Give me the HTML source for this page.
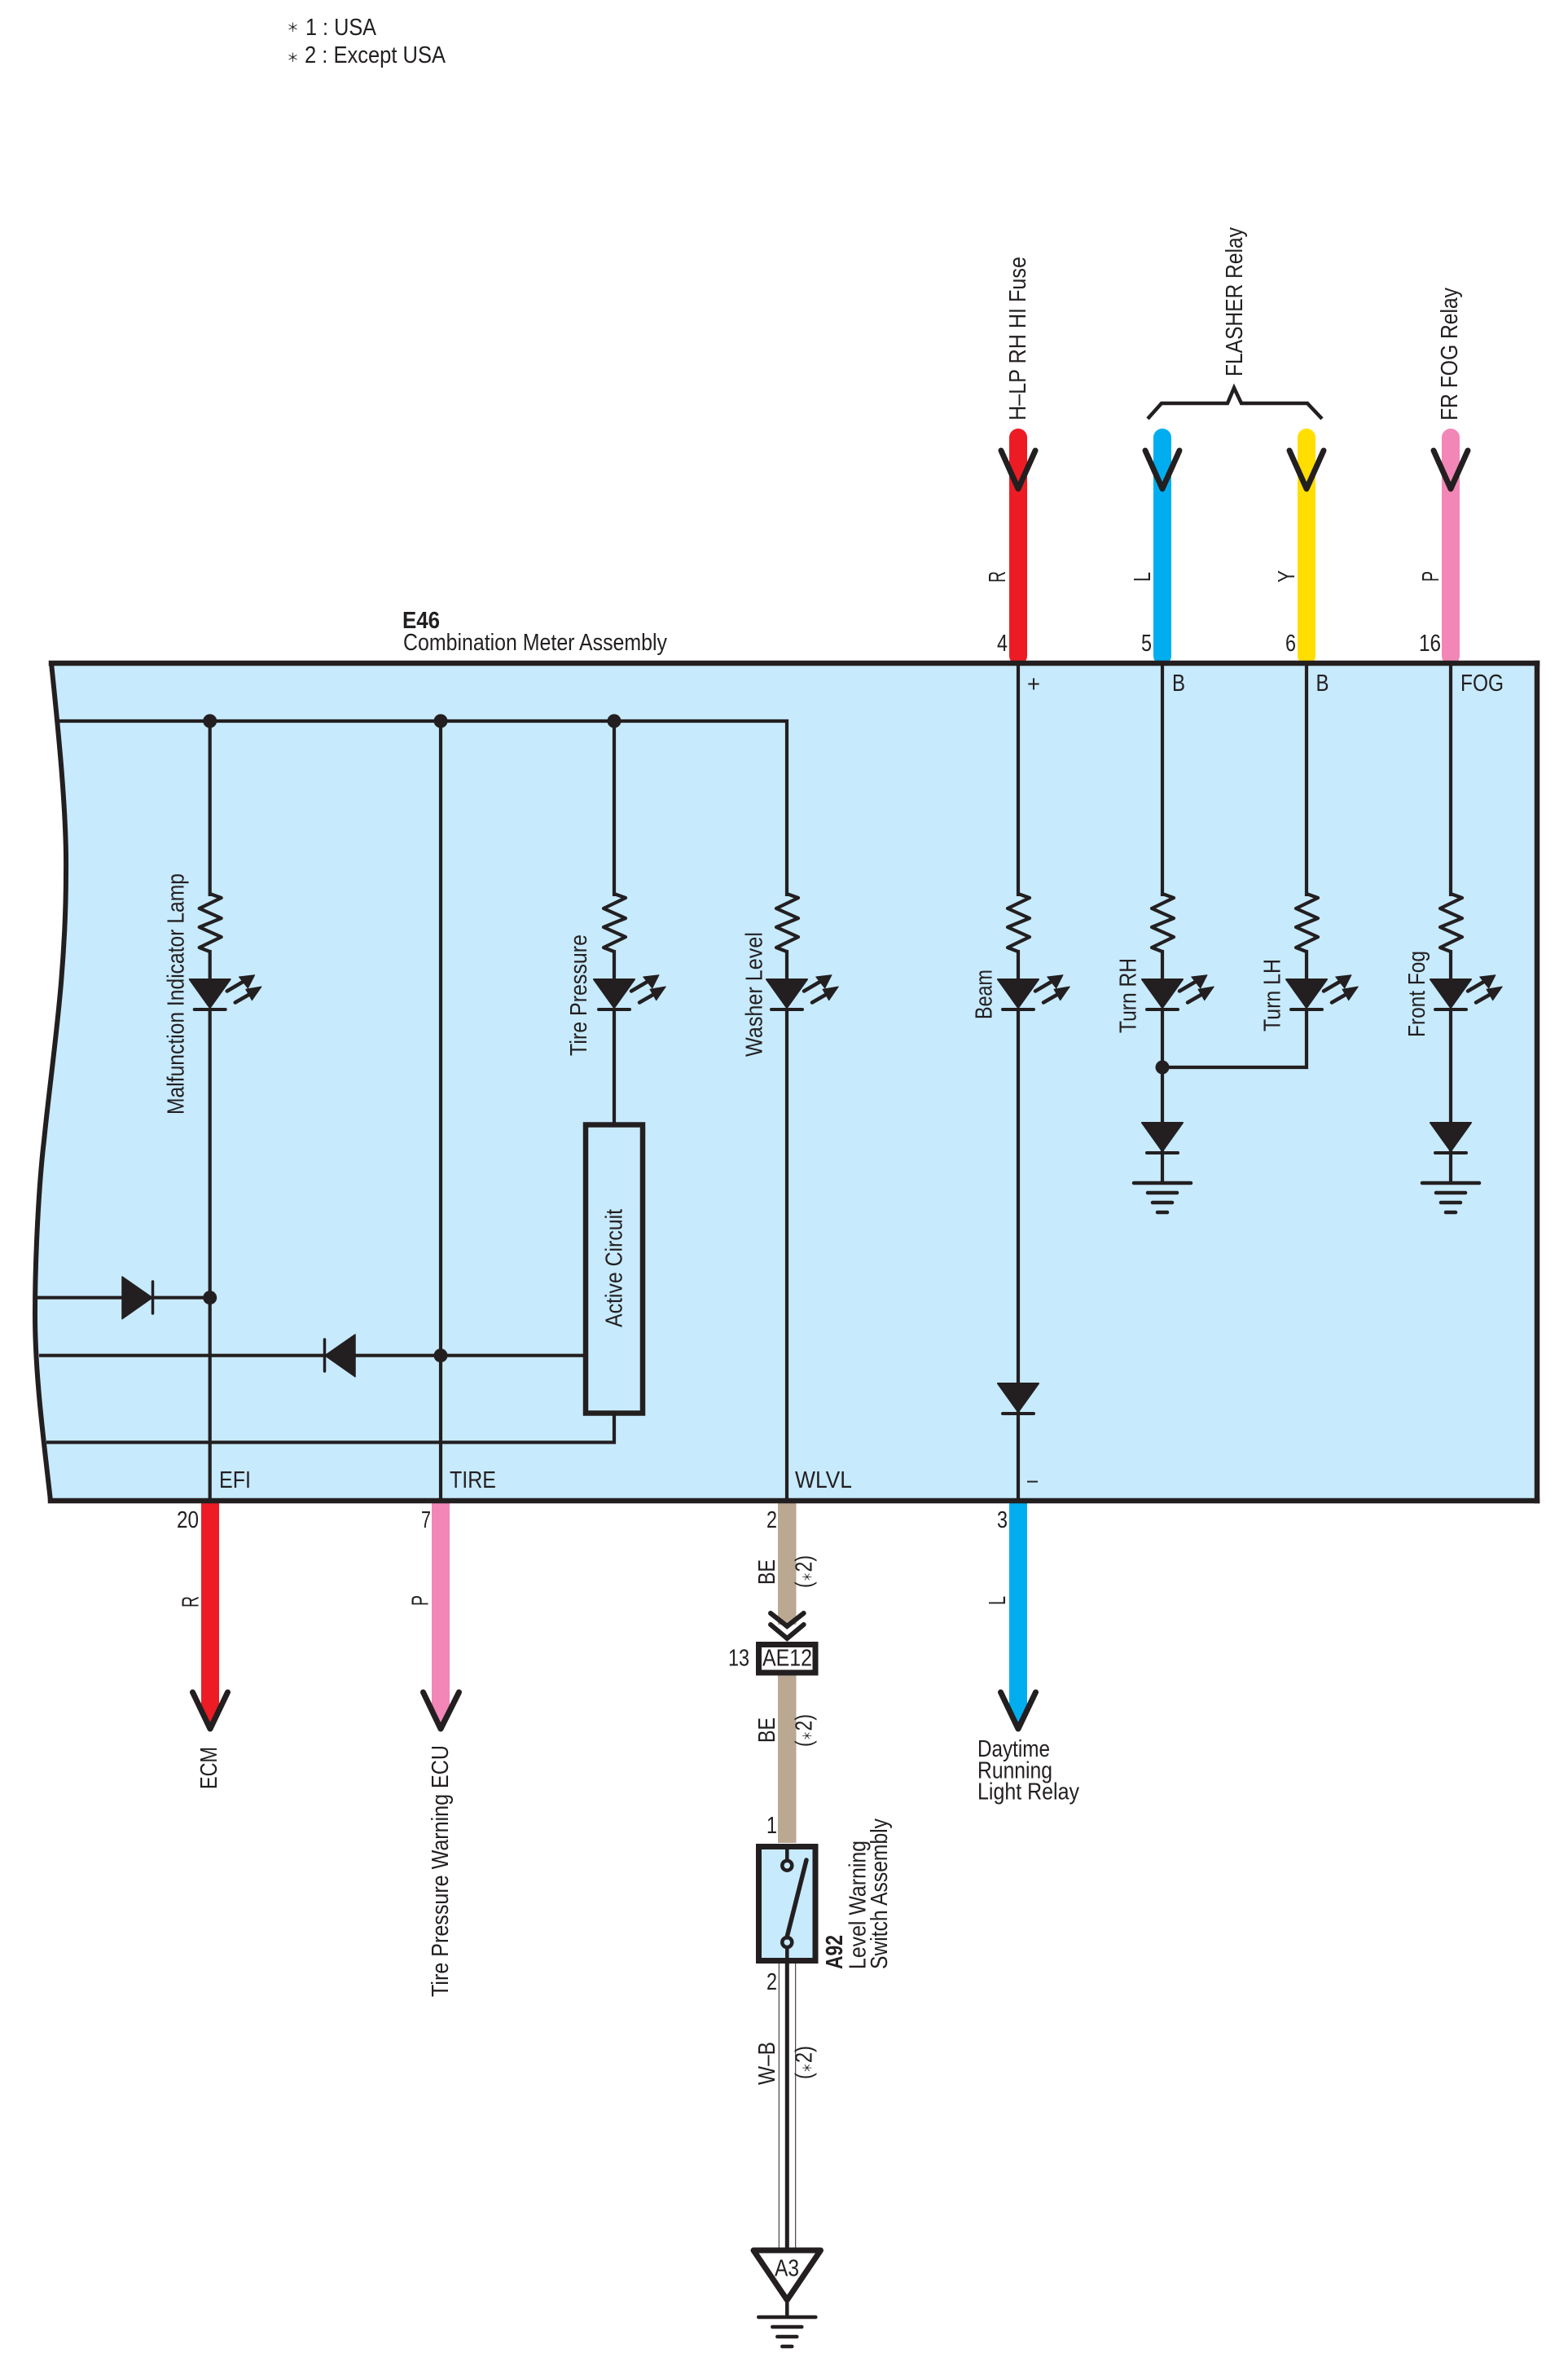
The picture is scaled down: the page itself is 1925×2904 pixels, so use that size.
<!DOCTYPE html>
<html>
<head>
<meta charset="utf-8">
<style>
html,body{margin:0;padding:0;background:#fff}
svg{display:block}
text{font-family:"Liberation Sans","DejaVu Sans",sans-serif;fill:#231f20;font-size:29px}
.ast{font-family:"Noto Sans CJK JP","DejaVu Sans",sans-serif;font-size:15px}
</style>
</head>
<body>
<svg width="1925" height="2904" viewBox="0 0 1925 2904" xmlns="http://www.w3.org/2000/svg">
<defs>
<g id="led" stroke="#231f20" fill="#231f20">
  <polyline points="0,1097 14,1102 -13,1115 14,1127 -13,1138 14,1150 -13,1163 0,1168" fill="none" stroke-width="4.2" stroke-linejoin="round"/>
  <line x1="0" y1="1166" x2="0" y2="1203" stroke-width="4.2"/>
  <polygon points="-25,1202 25,1202 0,1237" stroke-width="2" stroke-linejoin="round"/>
  <line x1="-19" y1="1239" x2="19" y2="1239" stroke-width="4" stroke-linecap="round"/>
  <line x1="21" y1="1216.5" x2="44" y2="1203" stroke-width="4.5" stroke-linecap="round"/>
  <polygon points="55,1196.7 35.7,1199 46.7,1213" stroke-width="1" stroke-linejoin="round"/>
  <line x1="31" y1="1230.5" x2="51" y2="1219" stroke-width="4.5" stroke-linecap="round"/>
  <polygon points="63.3,1211 44,1214.3 51.7,1227.7" stroke-width="1" stroke-linejoin="round"/>
</g>
<g id="diode" stroke="#231f20" fill="#231f20">
  <polygon points="-25,0 25,0 0,35" stroke-width="2" stroke-linejoin="round"/>
  <line x1="-19" y1="37" x2="19" y2="37" stroke-width="4" stroke-linecap="round"/>
</g>
<g id="gnd" stroke="#231f20" stroke-width="4.5" stroke-linecap="round">
  <line x1="-35" y1="0" x2="35" y2="0"/>
  <line x1="-18" y1="12" x2="18" y2="12"/>
  <line x1="-12" y1="24" x2="12" y2="24"/>
  <line x1="-6" y1="36" x2="6" y2="36"/>
</g>
</defs>

<!-- notes -->
<text class="ast" x="352" y="39">＊</text>
<text x="375" y="43" textLength="87" lengthAdjust="spacingAndGlyphs">1 : USA</text>
<text class="ast" x="352" y="76">＊</text>
<text x="374" y="77" textLength="173" lengthAdjust="spacingAndGlyphs">2 : Except USA</text>

<!-- top wires -->
<rect x="1239" y="526" width="22" height="290" rx="11" fill="#ed1c24"/>
<rect x="1416" y="526" width="22" height="290" rx="11" fill="#00aeef"/>
<rect x="1593" y="526" width="22" height="290" rx="11" fill="#ffde00"/>
<rect x="1770" y="526" width="22" height="290" rx="11" fill="#f287b7"/>
<g fill="none" stroke="#231f20" stroke-width="7" stroke-linejoin="round" stroke-linecap="round">
  <polyline points="1229,553 1250,600 1271,553"/>
  <polyline points="1406,553 1427,600 1448,553"/>
  <polyline points="1583,553 1604,600 1625,553"/>
  <polyline points="1760,553 1781,600 1802,553"/>
</g>
<polyline points="1409,514 1426,495 1507,495 1515,476 1524,495 1605,495 1623,514" fill="none" stroke="#231f20" stroke-width="4.5"/>

<text transform="translate(1259,516) rotate(-90)" font-size="30" textLength="201" lengthAdjust="spacingAndGlyphs">H–LP RH HI Fuse</text>
<text transform="translate(1525,462) rotate(-90)" font-size="30" textLength="183" lengthAdjust="spacingAndGlyphs">FLASHER Relay</text>
<text transform="translate(1789,516) rotate(-90)" font-size="30" textLength="163" lengthAdjust="spacingAndGlyphs">FR FOG Relay</text>
<text transform="translate(1234,715) rotate(-90)" font-size="30" textLength="14" lengthAdjust="spacingAndGlyphs">R</text>
<text transform="translate(1412,714) rotate(-90)" font-size="30" textLength="12" lengthAdjust="spacingAndGlyphs">L</text>
<text transform="translate(1589,715) rotate(-90)" font-size="30" textLength="15" lengthAdjust="spacingAndGlyphs">Y</text>
<text transform="translate(1766,714) rotate(-90)" font-size="30" textLength="13" lengthAdjust="spacingAndGlyphs">P</text>
<text x="1224" y="799" textLength="13" lengthAdjust="spacingAndGlyphs">4</text>
<text x="1401" y="799" textLength="13" lengthAdjust="spacingAndGlyphs">5</text>
<text x="1578" y="799" textLength="13" lengthAdjust="spacingAndGlyphs">6</text>
<text x="1742" y="799" textLength="27" lengthAdjust="spacingAndGlyphs">16</text>
<text x="494" y="771" font-size="28" font-weight="bold" textLength="46" lengthAdjust="spacingAndGlyphs">E46</text>
<text x="495" y="798" textLength="324" lengthAdjust="spacingAndGlyphs">Combination Meter Assembly</text>

<!-- bottom wires (behind box) -->
<polygon points="247,1840 269,1840 269,2098 258,2118 247,2098" fill="#ed1c24"/>
<polygon points="530,1840 552,1840 552,2098 541,2118 530,2098" fill="#f287b7"/>
<polygon points="1239,1840 1261,1840 1261,2098 1250,2118 1239,2098" fill="#00aeef"/>
<rect x="955" y="1840" width="22.5" height="154" fill="#bba892"/>
<rect x="955" y="2056" width="22.5" height="206" fill="#bba892"/>

<!-- main box -->
<path d="M63,814 L1887,814 L1887,1842 L62,1842 C54,1770 43,1690 43,1613 C43,1540 48,1450 54,1400 C64,1300 81,1200 81,1070 C82,1000 72,900 63,814 Z" fill="#c7eafd" stroke="#231f20" stroke-width="6" stroke-linejoin="round"/>
<g stroke="#231f20" stroke-width="6.5" stroke-linecap="square">
  <line x1="63" y1="814" x2="1887" y2="814"/>
  <line x1="1887" y1="814" x2="1887" y2="1842"/>
  <line x1="62" y1="1842" x2="1887" y2="1842"/>
</g>

<!-- internal wiring -->
<g stroke="#231f20" stroke-width="4.2" fill="none">
  <polyline points="71,885 966,885 966,1100"/>
  <line x1="257.7" y1="885" x2="257.7" y2="1100"/>
  <line x1="541" y1="885" x2="541" y2="1842"/>
  <line x1="754" y1="885" x2="754" y2="1100"/>
  <line x1="1250" y1="814" x2="1250" y2="1100"/>
  <line x1="1427" y1="814" x2="1427" y2="1100"/>
  <line x1="1604" y1="814" x2="1604" y2="1100"/>
  <line x1="1781" y1="814" x2="1781" y2="1100"/>
  <line x1="257.7" y1="1239" x2="257.7" y2="1842"/>
  <line x1="754" y1="1239" x2="754" y2="1380"/>
  <line x1="966" y1="1239" x2="966" y2="1842"/>
  <line x1="1250" y1="1239" x2="1250" y2="1842"/>
  <line x1="1427" y1="1239" x2="1427" y2="1452"/>
  <polyline points="1604,1239 1604,1310 1427,1310"/>
  <line x1="1781" y1="1239" x2="1781" y2="1452"/>
  <line x1="46" y1="1592.7" x2="257.7" y2="1592.7"/>
  <line x1="48" y1="1663.7" x2="719" y2="1663.7"/>
  <polyline points="57,1770.3 754,1770.3 754,1736"/>
</g>
<use href="#led" x="257.7"/>
<use href="#led" x="754"/>
<use href="#led" x="966"/>
<use href="#led" x="1250"/>
<use href="#led" x="1427"/>
<use href="#led" x="1604"/>
<use href="#led" x="1781"/>
<use href="#diode" x="1427" y="1378"/>
<use href="#diode" x="1781" y="1378"/>
<use href="#diode" x="1250" y="1698"/>
<use href="#gnd" x="1427" y="1452"/>
<use href="#gnd" x="1781" y="1452"/>

<!-- horizontal diodes -->
<polygon points="150,1567 150,1618.7 187,1592.7" fill="#231f20" stroke="#231f20" stroke-width="1.5" stroke-linejoin="round"/>
<line x1="187.5" y1="1573" x2="187.5" y2="1612" stroke="#231f20" stroke-width="3.5" stroke-linecap="round"/>
<polygon points="436,1638 436,1689.7 399,1663.7" fill="#231f20" stroke="#231f20" stroke-width="1.5" stroke-linejoin="round"/>
<line x1="398.5" y1="1644" x2="398.5" y2="1683" stroke="#231f20" stroke-width="3.5" stroke-linecap="round"/>

<!-- junctions -->
<g fill="#231f20">
  <circle cx="257.7" cy="885" r="8.5"/>
  <circle cx="541" cy="885" r="8.5"/>
  <circle cx="754" cy="885" r="8.5"/>
  <circle cx="257.7" cy="1592.7" r="8.5"/>
  <circle cx="541" cy="1663.7" r="8.5"/>
  <circle cx="1427" cy="1310" r="8.5"/>
</g>

<!-- active circuit -->
<rect x="719" y="1380.5" width="70" height="354" fill="none" stroke="#231f20" stroke-width="6.5"/>
<text transform="translate(763.5,1629) rotate(-90)" textLength="145" lengthAdjust="spacingAndGlyphs">Active Circuit</text>

<!-- internal labels -->
<text transform="translate(225.5,1368) rotate(-90)" textLength="296" lengthAdjust="spacingAndGlyphs">Malfunction Indicator Lamp</text>
<text transform="translate(720,1296) rotate(-90)" textLength="149" lengthAdjust="spacingAndGlyphs">Tire Pressure</text>
<text transform="translate(935.5,1297) rotate(-90)" textLength="153" lengthAdjust="spacingAndGlyphs">Washer Level</text>
<text transform="translate(1217.5,1251) rotate(-90)" textLength="61" lengthAdjust="spacingAndGlyphs">Beam</text>
<text transform="translate(1394.5,1268) rotate(-90)" textLength="92" lengthAdjust="spacingAndGlyphs">Turn RH</text>
<text transform="translate(1571.5,1266) rotate(-90)" textLength="89" lengthAdjust="spacingAndGlyphs">Turn LH</text>
<text transform="translate(1749,1273) rotate(-90)" textLength="106" lengthAdjust="spacingAndGlyphs">Front Fog</text>
<text x="1261" y="849" textLength="16" lengthAdjust="spacingAndGlyphs">+</text>
<text x="1439" y="848" textLength="16" lengthAdjust="spacingAndGlyphs">B</text>
<text x="1615.5" y="848" textLength="16" lengthAdjust="spacingAndGlyphs">B</text>
<text x="1793" y="848" textLength="53" lengthAdjust="spacingAndGlyphs">FOG</text>
<text x="269" y="1826" textLength="39" lengthAdjust="spacingAndGlyphs">EFI</text>
<text x="552" y="1826" textLength="57" lengthAdjust="spacingAndGlyphs">TIRE</text>
<text x="976" y="1826" textLength="70" lengthAdjust="spacingAndGlyphs">WLVL</text>
<text x="1261" y="1826" textLength="13" lengthAdjust="spacingAndGlyphs">–</text>

<!-- bottom arrows -->
<g fill="none" stroke="#231f20" stroke-width="7" stroke-linejoin="round" stroke-linecap="round">
  <polyline points="236.5,2077 258,2122 279.5,2077"/>
  <polyline points="519.5,2077 541,2122 563.5,2077"/>
  <polyline points="1228.5,2077 1250,2122 1271.5,2077"/>
</g>
<text x="217" y="1875" textLength="27" lengthAdjust="spacingAndGlyphs">20</text>
<text x="517" y="1875" textLength="12" lengthAdjust="spacingAndGlyphs">7</text>
<text x="941" y="1875" textLength="13" lengthAdjust="spacingAndGlyphs">2</text>
<text x="1224" y="1875" textLength="13" lengthAdjust="spacingAndGlyphs">3</text>
<text transform="translate(243.3,1973) rotate(-90)" font-size="30" textLength="14" lengthAdjust="spacingAndGlyphs">R</text>
<text transform="translate(525.7,1971) rotate(-90)" font-size="30" textLength="13" lengthAdjust="spacingAndGlyphs">P</text>
<text transform="translate(1234,1970) rotate(-90)" font-size="30" textLength="11" lengthAdjust="spacingAndGlyphs">L</text>
<text transform="translate(266,2196) rotate(-90)" textLength="52" lengthAdjust="spacingAndGlyphs">ECM</text>
<text transform="translate(550,2451) rotate(-90)" textLength="309" lengthAdjust="spacingAndGlyphs">Tire Pressure Warning ECU</text>
<text x="1200" y="2156" textLength="89" lengthAdjust="spacingAndGlyphs">Daytime</text>
<text x="1200" y="2182.6" textLength="92" lengthAdjust="spacingAndGlyphs">Running</text>
<text x="1200" y="2208.7" textLength="125" lengthAdjust="spacingAndGlyphs">Light Relay</text>

<!-- tan wire parts -->
<text transform="translate(951,1945) rotate(-90)" textLength="31" lengthAdjust="spacingAndGlyphs">BE</text>
<text transform="translate(996.5,1949) rotate(-90)" font-size="26" textLength="40" lengthAdjust="spacingAndGlyphs">(<tspan class="ast">＊</tspan>2)</text>
<g fill="none" stroke="#231f20" stroke-width="6" stroke-linecap="round">
  <polyline points="946,1980 966.3,1996 986.7,1980"/>
  <polyline points="946,1994 966.3,2011 986.7,1994"/>
</g>
<rect x="931.5" y="2018.5" width="69.5" height="34.5" fill="#fff" stroke="#231f20" stroke-width="7"/>
<text x="936" y="2044.6" textLength="61" lengthAdjust="spacingAndGlyphs">AE12</text>
<text x="894" y="2044.6" textLength="26" lengthAdjust="spacingAndGlyphs">13</text>
<text transform="translate(951,2139) rotate(-90)" textLength="31" lengthAdjust="spacingAndGlyphs">BE</text>
<text transform="translate(996.5,2144) rotate(-90)" font-size="26" textLength="40" lengthAdjust="spacingAndGlyphs">(<tspan class="ast">＊</tspan>2)</text>
<text x="941" y="2250" textLength="13" lengthAdjust="spacingAndGlyphs">1</text>

<!-- switch -->
<rect x="931.5" y="2266.5" width="69.5" height="140" fill="#c7eafd" stroke="#231f20" stroke-width="7"/>
<g stroke="#231f20" fill="none">
  <line x1="966.3" y1="2266" x2="966.3" y2="2283" stroke-width="4.5"/>
  <circle cx="966.3" cy="2289.7" r="6" stroke-width="4.5"/>
  <line x1="990" y1="2283" x2="966" y2="2378" stroke-width="5.5" stroke-linecap="round"/>
  <circle cx="966.3" cy="2384" r="6" stroke-width="4.5"/>
  <line x1="966.3" y1="2390" x2="966.3" y2="2410" stroke-width="4.5"/>
</g>
<text transform="translate(1034,2417) rotate(-90)" font-weight="bold" textLength="42" lengthAdjust="spacingAndGlyphs">A92</text>
<text transform="translate(1062.7,2417) rotate(-90)" textLength="158" lengthAdjust="spacingAndGlyphs">Level Warning</text>
<text transform="translate(1089,2417) rotate(-90)" textLength="185" lengthAdjust="spacingAndGlyphs">Switch Assembly</text>

<!-- W-B wire -->
<line x1="956.3" y1="2410" x2="956.3" y2="2760" stroke="#231f20" stroke-width="1"/>
<line x1="976.7" y1="2410" x2="976.7" y2="2760" stroke="#231f20" stroke-width="1"/>
<line x1="966.3" y1="2410" x2="966.3" y2="2760" stroke="#231f20" stroke-width="5"/>
<text x="941" y="2442" textLength="13" lengthAdjust="spacingAndGlyphs">2</text>
<text transform="translate(951,2559) rotate(-90)" textLength="53" lengthAdjust="spacingAndGlyphs">W–B</text>
<text transform="translate(996.5,2552) rotate(-90)" font-size="26" textLength="41" lengthAdjust="spacingAndGlyphs">(<tspan class="ast">＊</tspan>2)</text>

<!-- ground terminal -->
<polygon points="925,2762 1007.5,2762 966.3,2823" fill="#fff" stroke="#231f20" stroke-width="7" stroke-linejoin="round"/>
<text x="951" y="2793.3" font-size="28" textLength="30" lengthAdjust="spacingAndGlyphs">A3</text>
<line x1="966.3" y1="2825" x2="966.3" y2="2844" stroke="#231f20" stroke-width="4.5"/>
<use href="#gnd" x="966.3" y="2844"/>
</svg>
</body>
</html>
